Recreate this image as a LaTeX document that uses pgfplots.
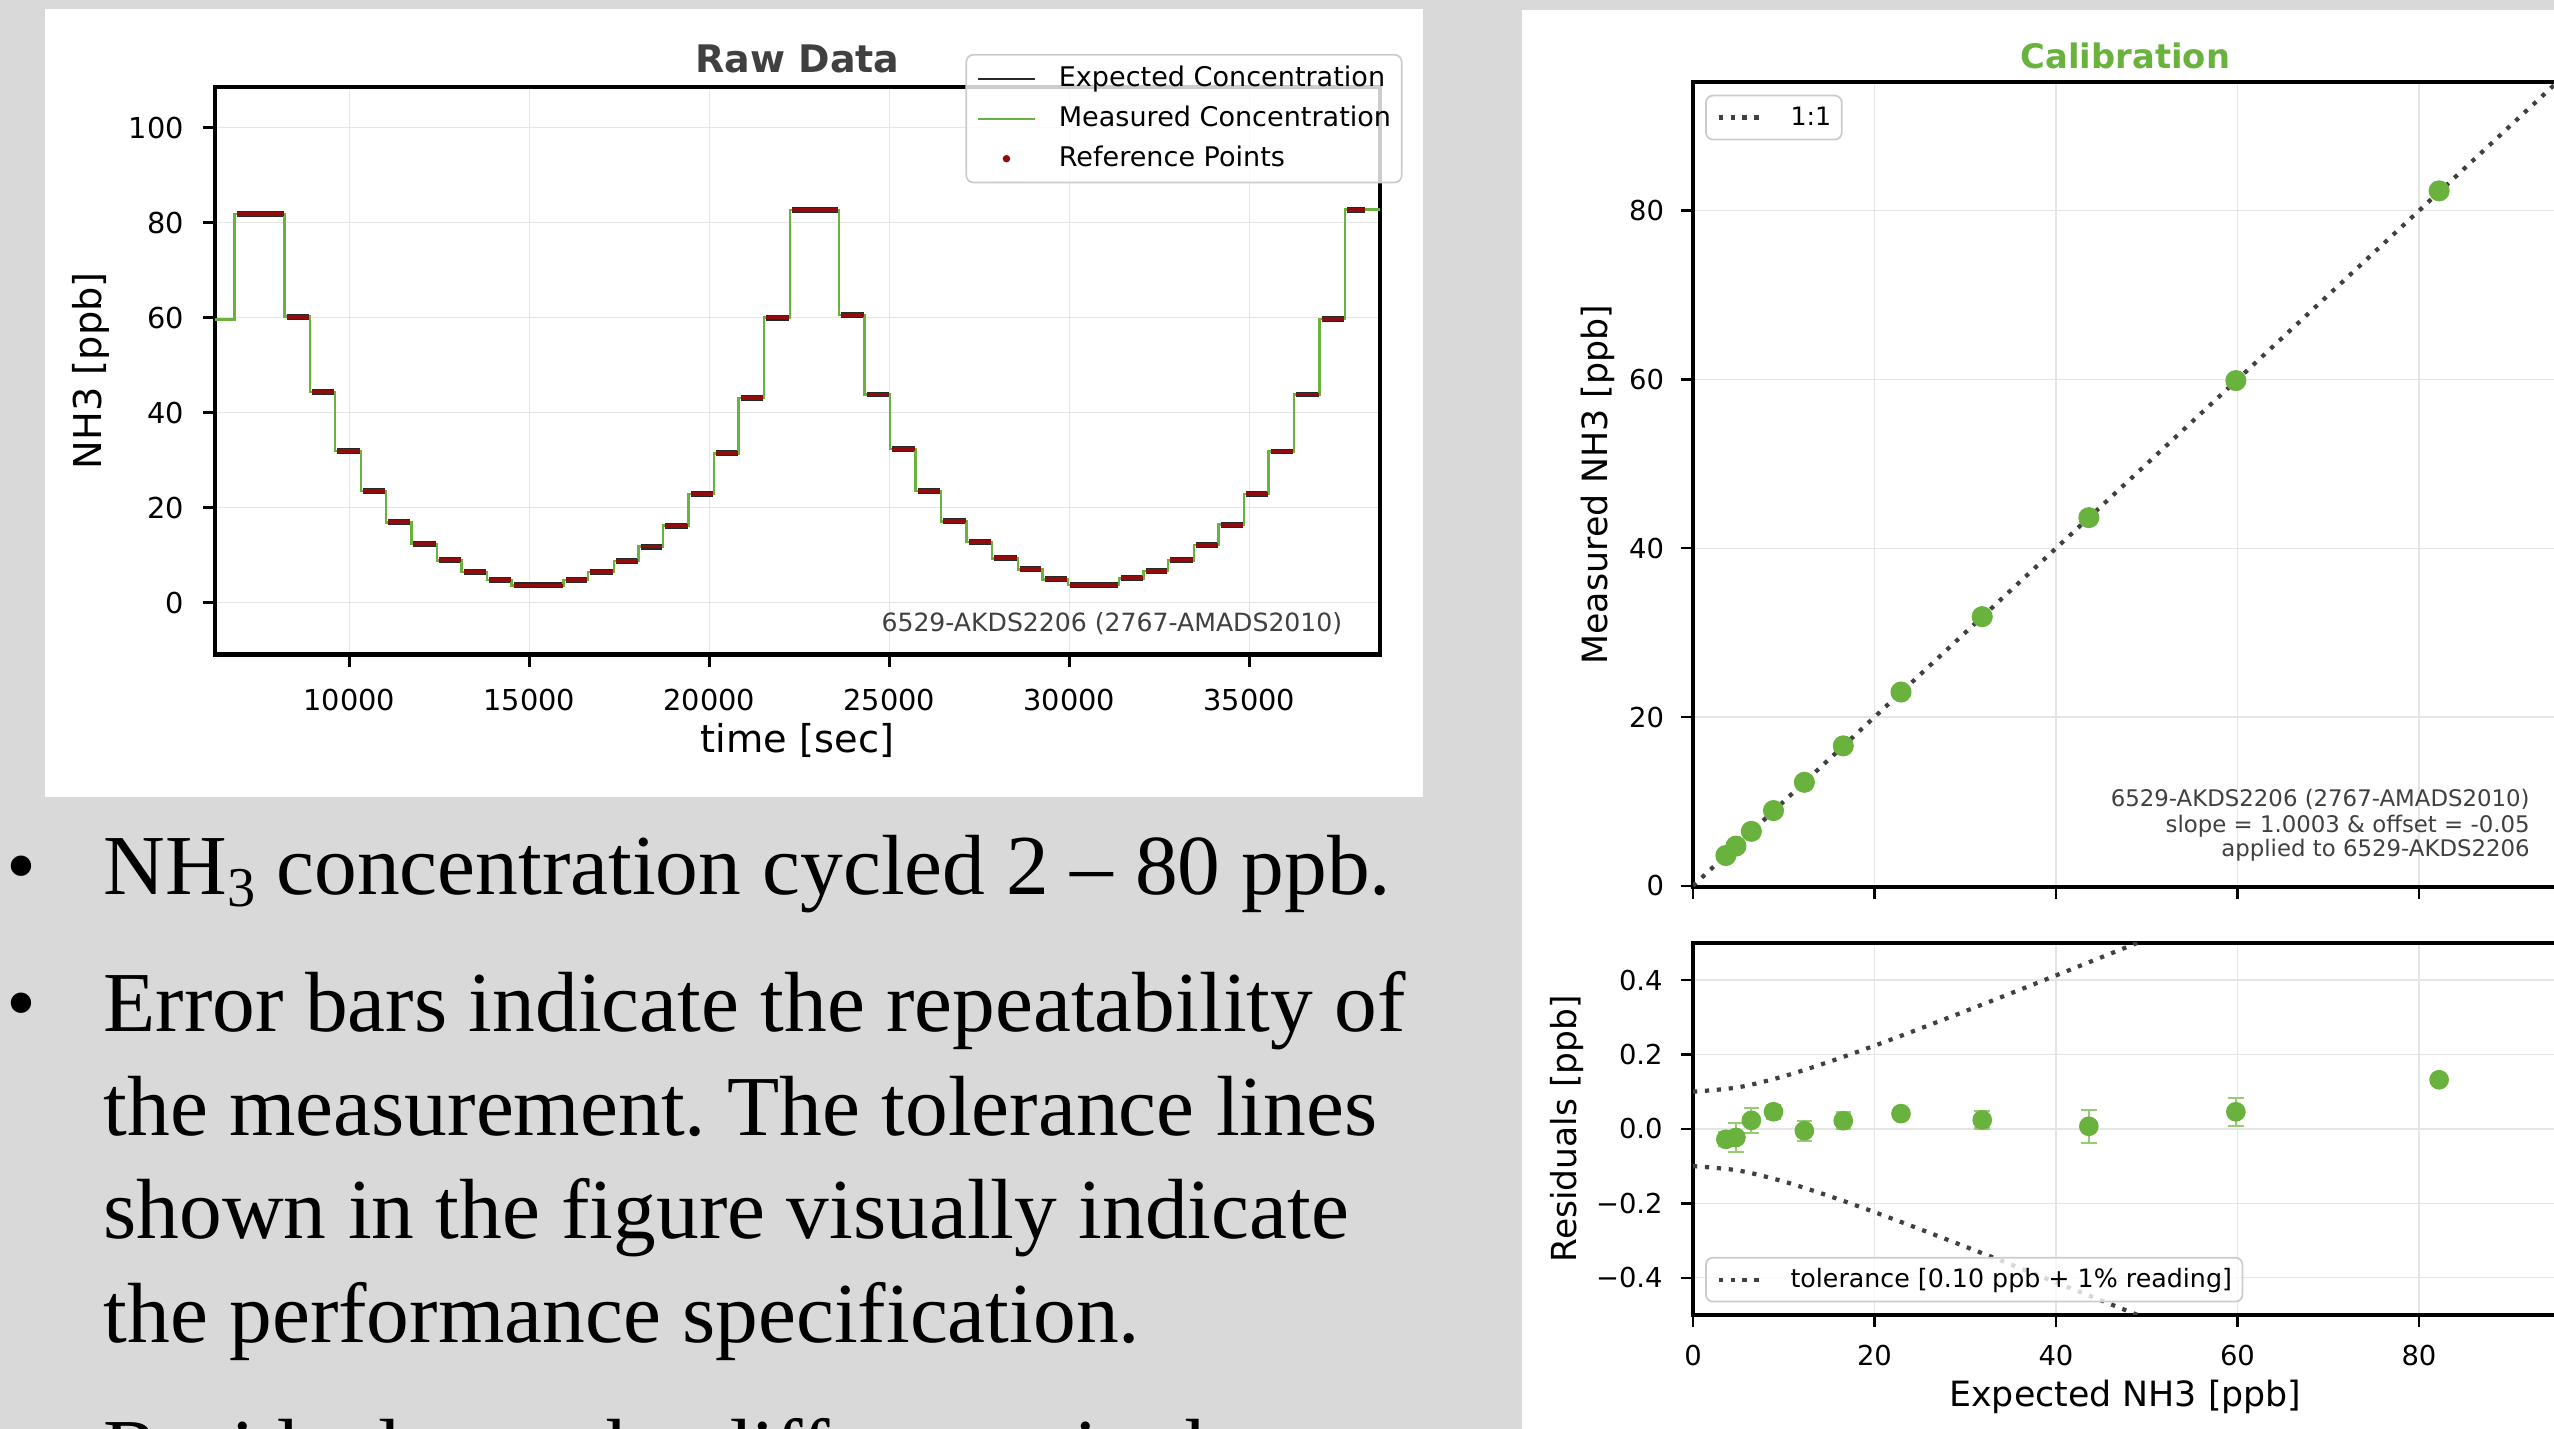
\documentclass[border=0pt]{standalone}
\usepackage{fontspec}
\setmainfont{Liberation Serif}
\newfontfamily\dv{DejaVu Sans}
\usepackage{pgfplots}
\usepackage{pgfplotstable}
\pgfplotsset{compat=1.18}
\frenchspacing

\definecolor{slidebg}{RGB}{217,217,217}
\definecolor{mplgreen}{RGB}{106,178,62}
\definecolor{errgreen}{RGB}{150,205,115}
\definecolor{refred}{RGB}{145,12,12}
\definecolor{dgray}{RGB}{64,64,64}
\definecolor{expblack}{RGB}{40,40,40}

% measured concentration: value holds from t to the next t
\pgfplotstableread{
t v
6277 59.6
6809 81.8
8202 60.2
8911 44.3
9595 31.9
10329 23.5
11013 16.9
11722 12.3
12432 8.9
13115 6.4
13825 4.8
14509 3.6
15952 4.8
16636 6.4
17345 8.8
18029 11.8
18713 16.2
19422 22.8
20132 31.4
20815 43.1
21525 60.0
22234 82.6
23602 60.5
24311 43.8
25020 32.3
25730 23.5
26439 17.1
27148 12.7
27857 9.3
28567 7.0
29250 4.9
29960 3.7
31378 5.1
32062 6.7
32746 8.9
33455 12.1
34139 16.4
34848 22.8
35532 31.8
36241 43.8
36951 59.7
37660 82.7
38622 82.7
}\measured

% reference plateaus: centre, level, half width
\pgfplotstableread{
c v w
7523 81.8 654
8574 60.2 312
9270 44.3 300
9980 31.9 325
10689 23.5 300
11385 16.9 312
12095 12.3 313
12791 8.9 299
13488 6.4 313
14185 4.8 300
15248 3.6 679
16312 4.8 300
17008 6.4 312
17705 8.8 300
18389 11.8 300
19085 16.2 312
19795 22.8 313
20491 31.4 299
21188 43.1 313
21897 60.0 312
22936 82.6 642
23974 60.5 312
24683 43.8 312
25393 32.3 313
26102 23.5 312
26811 17.1 312
27520 12.7 312
28230 9.3 313
28926 7.0 299
29623 4.9 313
30687 3.7 667
31738 5.1 300
32422 6.7 300
33118 8.9 312
33815 12.1 300
34511 16.4 312
35208 22.8 300
35904 31.8 312
36614 43.8 313
37323 59.7 312
37960 82.7 240
}\refpts

\pgfplotstableread{
x y r e
3.62 3.592 -0.028 0.019
4.73 4.707 -0.023 0.040
6.43 6.453 0.023 0.033
8.87 8.916 0.046 0.019
12.27 12.265 -0.005 0.027
16.56 16.582 0.022 0.022
22.92 22.961 0.041 0.008
31.87 31.894 0.024 0.023
43.62 43.627 0.007 0.044
59.82 59.866 0.046 0.038
82.22 82.352 0.132 0.003
}\calib

\pgfplotstableread{
x up lo
0 0.1 -0.1
5 0.1118 -0.1118
10 0.1414 -0.1414
15 0.1803 -0.1803
20 0.2236 -0.2236
25 0.2693 -0.2693
30 0.3162 -0.3162
35 0.3640 -0.3640
40 0.4123 -0.4123
45 0.4610 -0.4610
50 0.5099 -0.5099
55 0.5590 -0.5590
}\tol

\tikzset{
  dotline/.style={dgray, line width=1.2pt, dash pattern=on 1.2pt off 2.2pt},
}
\pgfplotsset{
  mplaxis/.style={
    scale only axis, anchor=south west,
    axis line style={line width=1.2pt, black},
    tick align=outside, tick pos=left,
    major tick length=0.12cm,
    major tick style={line width=0.7pt, black},
    grid=major, major grid style={line width=0.4pt, black!10},
    /pgf/number format/assume math mode=true,
    /pgf/number format/1000 sep={},
    scaled ticks=false,
    legend cell align=left,
    legend style={draw=black!20, line width=0.5pt, rounded corners=2pt,
      fill=white, fill opacity=0.8, draw opacity=1, text opacity=1,
      inner xsep=3pt, inner ysep=3pt,
      nodes={inner sep=0pt, text height=6pt, text depth=1.5pt},
      row sep=3.9pt,
      /tikz/every odd column/.append style={column sep=6.5pt}},
  },
  dotlegend/.style={legend image code/.code={\draw[dotline] (0cm,0cm) -- (0.47cm,0cm);}},
  blacklegend/.style={legend image code/.code={\draw[expblack, line width=0.6pt] (0cm,0cm) -- (0.57cm,0cm);}},
  greenlegend/.style={legend image code/.code={\draw[mplgreen, line width=0.6pt] (0cm,0cm) -- (0.57cm,0cm);}},
  redlegend/.style={legend image code/.code={\fill[refred, fill opacity=1] (0.285cm,0cm) circle (0.8pt);}},
}

\begin{document}
\begin{tikzpicture}
\useasboundingbox (0,0) rectangle (25.54,14.29);
\clip (0,0) rectangle (25.54,14.29);
\fill[slidebg] (0,0) rectangle (25.54,14.29);
\fill[white] (0.45,6.32) rectangle (14.23,14.20);
\fill[white] (15.22,0) rectangle (25.54,14.19);

\begin{scope}[every node/.style={anchor=base west, inner sep=0pt, font=\fontsize{24.3}{29}\selectfont}]
\node at (0.06,5.34) {•};
\node at (1.03,5.34) {NH\raisebox{-0.3ex}{\fontsize{16}{18}\selectfont 3} concentration cycled 2 – 80 ppb.};
\node at (0.06,3.977) {•};
\node at (1.03,3.977) {Error bars indicate the repeatability of};
\node at (1.03,2.93) {the measurement. The tolerance lines};
\node at (1.03,1.908) {shown in the figure visually indicate};
\node at (1.03,0.86) {the performance specification.};
\node at (0.06,-0.50) {•};
\node at (1.03,-0.50) {Residuals are the difference in the};
\end{scope}

% ---- raw data
\begin{axis}[mplaxis,
  at={(2.152cm,7.744cm)}, width=11.646cm, height=5.679cm,
  xmin=6275, xmax=38622, ymin=-10.95, ymax=108.6,
  xtick={10000,15000,...,35000}, ytick={0,20,...,100},
  tick label style={font=\dv\fontsize{8.2}{10}\selectfont},
  xticklabel style={anchor=base, inner sep=0pt, yshift=-0.436cm},
  yticklabel style={anchor=east, inner sep=0pt, xshift=-0.188cm},
  title={Raw Data},
  title style={at={(axis description cs:0.5,1)}, anchor=base, yshift=-0.069cm,
    font=\dv\bfseries\fontsize{10.8}{13}\selectfont, text=dgray},
  xlabel={time [sec]},
  xlabel style={at={(axis description cs:0.5,-0.1732)}, anchor=base,
    font=\dv\fontsize{10.9}{13}\selectfont},
  ylabel={NH3 [ppb]},
  ylabel style={at={(axis description cs:-0.1066,0.5)}, anchor=center,
    font=\dv\fontsize{10.9}{13}\selectfont},
  legend style={at={(1.0195,1.0576)}, anchor=north east,
    font=\dv\fontsize{7.7}{9}\selectfont},
]
\addplot[expblack, only marks, mark=*, mark size=0pt, blacklegend,
  error bars/.cd, x dir=both, x explicit, error mark=none,
  error bar style={line width=1.7pt, expblack}]
  table[x=c, y=v, x error=w] {\refpts};
\addplot[const plot, mplgreen, line width=0.7pt, greenlegend]
  table[x=t, y=v] {\measured};
\addplot[refred, only marks, mark=*, mark size=0pt, redlegend,
  error bars/.cd, x dir=both, x explicit, error mark=none,
  error bar style={line width=1.1pt, refred}]
  table[x=c, y=v, x error=w] {\refpts};
\legend{Expected Concentration, Measured Concentration, Reference Points}
\node[anchor=base east, inner sep=0pt, font=\dv\fontsize{7.15}{8.5}\selectfont, text=dgray]
  at (axis description cs:0.9684,0.0405) {6529-AKDS2206 (2767-AMADS2010)};
\end{axis}

% ---- calibration
\begin{axis}[mplaxis,
  at={(16.93cm,5.42cm)}, width=8.648cm, height=8.049cm,
  xmin=0, xmax=95.3, ymin=-0.14, ymax=95.24,
  xtick={0,20,...,80}, ytick={0,20,...,80}, xticklabels={},
  tick label style={font=\dv\fontsize{7.8}{9.5}\selectfont},
  yticklabel style={anchor=east, inner sep=0pt, xshift=-0.163cm},
  title={Calibration},
  title style={at={(axis description cs:0.5,1)}, anchor=base, yshift=-0.078cm,
    font=\dv\bfseries\fontsize{9.6}{11.5}\selectfont, text=mplgreen},
  ylabel={Measured NH3 [ppb]},
  ylabel style={at={(axis description cs:-0.1104,0.5)}, anchor=center,
    font=\dv\fontsize{9.9}{12}\selectfont},
  legend style={at={(0.0139,0.9843)}, anchor=north west,
    font=\dv\fontsize{7.2}{8.6}\selectfont, inner ysep=2.5pt},
]
\addplot[only marks, mark=*, mark size=2.8pt, mplgreen, forget plot]
  table[x=x, y=y] {\calib};
\addplot[dotline, dotlegend] coordinates {(0,0) (100,100)};
\addlegendentry{1:1}
\begin{scope}[every node/.style={anchor=base east, inner sep=0pt,
    font=\dv\fontsize{6.5}{7.5}\selectfont, text=dgray}]
\node at (axis description cs:0.9683,0.1000) {6529-AKDS2206 (2767-AMADS2010)};
\node at (axis description cs:0.9683,0.0678) {slope = 1.0003 \& offset = -0.05};
\node at (axis description cs:0.9683,0.0373) {applied to 6529-AKDS2206};
\end{scope}
\end{axis}

% ---- residuals
\begin{axis}[mplaxis,
  at={(16.93cm,1.14cm)}, width=8.648cm, height=3.722cm,
  xmin=0, xmax=95.3, ymin=-0.5, ymax=0.5,
  xtick={0,20,...,80}, ytick={-0.4,-0.2,0,0.2,0.4},
  yticklabels={−0.4,−0.2,0.0,0.2,0.4},
  tick label style={font=\dv\fontsize{7.8}{9.5}\selectfont},
  xticklabel style={anchor=base, inner sep=0pt, yshift=-0.39cm},
  yticklabel style={anchor=east, inner sep=0pt, xshift=-0.177cm},
  xlabel={Expected NH3 [ppb]},
  xlabel style={at={(axis description cs:0.5,-0.2472)}, anchor=base,
    font=\dv\fontsize{9.9}{12}\selectfont},
  ylabel={Residuals [ppb]},
  ylabel style={at={(axis description cs:-0.1457,0.5)}, anchor=center,
    font=\dv\fontsize{9.8}{12}\selectfont},
  legend style={at={(0.0139,0.0336)}, anchor=south west,
    font=\dv\fontsize{7.2}{8.6}\selectfont, inner ysep=2.5pt},
]
\addplot[dotline, smooth, dotlegend] table[x=x, y=up] {\tol};
\addlegendentry{tolerance [0.10 ppb + 1\% reading]}
\addplot[dotline, smooth, forget plot] table[x=x, y=lo] {\tol};
\addplot[only marks, mark=*, mark size=2.6pt, mplgreen, forget plot,
  error bars/.cd, y dir=both, y explicit, error mark=|,
  error bar style={line width=0.6pt, errgreen},
  error mark options={line width=0.6pt, mark size=2.2pt, errgreen}]
  table[x=x, y=r, y error=e] {\calib};
\end{axis}
\end{tikzpicture}
\end{document}
